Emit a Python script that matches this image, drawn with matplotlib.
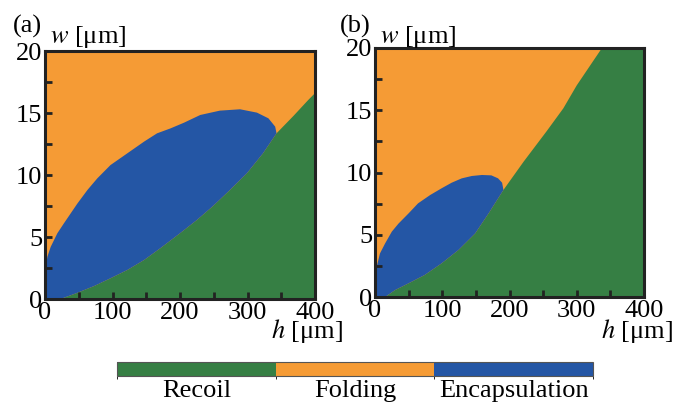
import numpy as np
import matplotlib
matplotlib.use('Agg')
from matplotlib import pyplot as plt
from matplotlib.colors import ListedColormap, BoundaryNorm
from matplotlib.cm import ScalarMappable

plt.rcParams['font.family'] = ['Liberation Serif', 'DejaVu Serif']
plt.rcParams['mathtext.fontset'] = 'stix'

phases = ['Recoil', 'Folding', 'Encapsulation']
phase_colors = ['#367f44', '#f59b35', '#2456a5']

# panel (a): recoil boundary (lower) and encapsulation boundary (upper)
a_low_h = [23, 48, 73, 97, 122, 147, 171, 200, 225, 249, 274, 299, 323, 343, 368, 390, 400]
a_low_w = [0, 0.5, 1.05, 1.67, 2.34, 3.15, 4.1, 5.3, 6.37, 7.5, 8.79, 10.13, 11.75,
           13.36, 14.76, 16.05, 16.6]
a_enc_h = [0, 1, 3.5, 8.4, 18.3, 28, 38, 48, 63, 77.5, 97, 122, 147, 166, 186, 206,
           230, 259, 289, 314, 331, 341, 343]
a_enc_w = [2.3, 2.5, 3.4, 4.2, 5.3, 6.1, 6.9, 7.7, 8.8, 9.73, 10.8, 11.75, 12.7, 13.36,
           13.76, 14.22, 14.84, 15.19, 15.3, 15.03, 14.57, 13.9, 13.36]

# panel (b)
b_low_h = [15, 30, 50, 74, 99, 124, 149, 169, 191, 221, 255, 280, 300, 320, 335, 337]
b_low_w = [0, 0.56, 1.1, 1.77, 2.7, 3.77, 5.11, 6.72, 8.6, 10.87, 13.3, 15.15, 17.0,
           18.6, 19.8, 20]
b_enc_h = [0, 2.5, 7.4, 15, 25, 35, 50, 64, 82, 99, 114, 129, 144, 159, 173, 183,
           189, 191]
b_enc_w = [2.1, 2.43, 3.5, 4.3, 5.25, 5.9, 6.72, 7.52, 8.19, 8.73, 9.18, 9.53, 9.72,
           9.8, 9.77, 9.53, 9.18, 8.6]

x_ticks = [0, 100, 200, 300, 400]
y_ticks = [0, 5, 10, 15, 20]

fig = plt.figure(figsize=(6.73, 4.03), dpi=100)
ax_a = fig.add_axes([45/673, 1-299/403, 270/673, 248/403])
ax_b = fig.add_axes([375/673, 1-297/403, 269/673, 249/403])


def draw_panel(ax, low_h, low_w, enc_h, enc_w, tag, pos):
    low_h = np.array(low_h, float)
    low_w = np.array(low_w, float)
    ax.set_facecolor(phase_colors[1])
    # recoil region below the lower boundary
    ax.fill(np.r_[low_h, 400, 400], np.r_[low_w, 20, 0],
            color=phase_colors[0], lw=0)
    # encapsulation island
    t = enc_h[-1]
    keep = low_h <= t
    ph = np.r_[enc_h, low_h[keep][::-1], 0]
    pw = np.r_[enc_w, low_w[keep][::-1], 0]
    ax.fill(ph, pw, color=phase_colors[2], lw=0)

    ax.set_xlim(0, 400)
    ax.set_ylim(0, 20)
    ax.set_xticks(x_ticks)
    ax.set_yticks(y_ticks)
    ax.set_xticks(np.arange(50, 400, 100), minor=True)
    ax.set_yticks(np.arange(2.5, 20, 5), minor=True)
    ax.tick_params(which='both', direction='in', length=5, width=2,
                   top=False, right=False, labelsize=19, color='#222222')
    ax.tick_params(axis='x', pad=2)
    ax.tick_params(axis='y', pad=2)
    for s in ax.spines.values():
        s.set_linewidth(2.2)
        s.set_color('#222222')

    tx, ty, wx, wy, hx, hy = pos
    ax.text(tx, ty, tag, transform=ax.transAxes, fontsize=19,
            ha='left', va='baseline')
    ax.text(wx, wy, '$w$ [μm]', transform=ax.transAxes, fontsize=19,
            ha='left', va='baseline')
    ax.text(hx, hy, '$h$ [μm]', transform=ax.transAxes, fontsize=19,
            ha='right', va='baseline')


draw_panel(ax_a, a_low_h, a_low_w, a_enc_h, a_enc_w, '(a)',
           (-0.12, 1.075, 0.018, 1.032, 1.104, -0.157))
draw_panel(ax_b, b_low_h, b_low_w, b_enc_h, b_enc_w, '(b)',
           (-0.13, 1.06, 0.018, 1.02, 1.108, -0.165))

# phase legend bar
cax = fig.add_axes([117/673, 1-376/403, 476/673, 14/403])
cmap = ListedColormap(phase_colors)
norm = BoundaryNorm([0, 1, 2, 3], cmap.N)
cb = fig.colorbar(ScalarMappable(norm=norm, cmap=cmap), cax=cax,
                  orientation='horizontal', ticks=[0.5, 1.5, 2.5])
cb.ax.set_xticklabels(phases)
cb.ax.tick_params(length=0, labelsize=19, pad=3)
cb.outline.set_linewidth(0.8)
cb.outline.set_edgecolor('#555555')

fig.savefig('out.png', dpi=100)
